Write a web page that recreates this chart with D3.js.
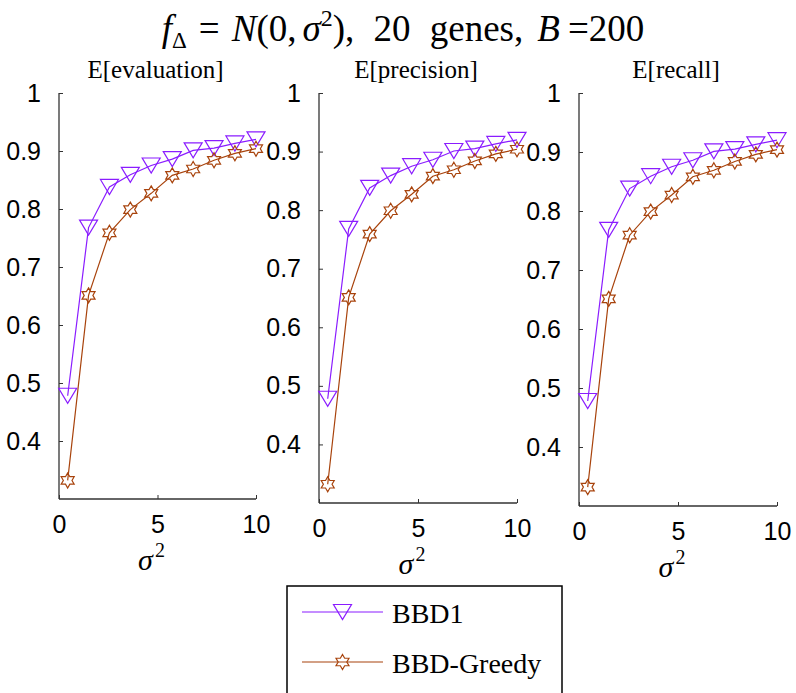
<!DOCTYPE html>
<html lang="en">
<head>
<meta charset="utf-8">
<title>BBD1 vs BBD-Greedy</title>
<script src="https://d3js.org/d3.v7.min.js"></script>
<style>
  body { margin: 0; background: #fff; }
  svg { display: block; }
  .serif { font-family: "Liberation Serif", "Times New Roman", serif; }
  .tick-label { font-family: "Liberation Sans", Arial, sans-serif; font-size: 25px; fill: #000; }
</style>
</head>
<body>
<svg id="chart" width="796" height="693"></svg>
<script>
// values (same curves in all three panels)
var sigma2 = [0.44, 1.5, 2.56, 3.62, 4.68, 5.75, 6.81, 7.87, 8.93, 10];
var bbd1 = [0.478, 0.768, 0.838, 0.859, 0.875, 0.886, 0.901, 0.905, 0.913, 0.92];
var bbdGreedy = [0.332, 0.651, 0.759, 0.799, 0.827, 0.858, 0.869, 0.884, 0.896, 0.904];

var panelTitles = ["E[evaluation]", "E[precision]", "E[recall]"];
var yTicks = [0.4, 0.5, 0.6, 0.7, 0.8, 0.9, 1];
var xTicks = [0, 5, 10];
var seriesNames = ["BBD1", "BBD-Greedy"];

var purple = "#8a1cff", brown = "#a8430c", axisColor = "#333";

// panel boxes (left, right, top, bottom) in px
var boxes = [
  {x0: 59, x1: 256, y0: 93, y1: 499},
  {x0: 319, x1: 517, y0: 93, y1: 503},
  {x0: 579, x1: 777, y0: 93, y1: 506}
];

var svg = d3.select("#chart");

var tri = "M-9,-7.5L9,-7.5L0,7.5Z";
function hexagram(r) {
  var ri = r / Math.sqrt(3), pts = [];
  for (var i = 0; i < 12; i++) {
    var a = -Math.PI / 2 + i * Math.PI / 6, rr = i % 2 ? ri : r;
    pts.push([rr * Math.cos(a), rr * Math.sin(a)]);
  }
  return "M" + pts.join("L") + "Z";
}
var star = hexagram(7.5);

var series = [
  {name: seriesNames[0], values: bbd1, color: purple, marker: tri},
  {name: seriesNames[1], values: bbdGreedy, color: brown, marker: star}
];

// main title
var title = svg.append("text").attr("class", "serif")
  .attr("x", 403).attr("y", 41).attr("text-anchor", "middle")
  .style("font-size", "37px").style("word-spacing", "10px");
title.append("tspan").style("font-style", "italic").text("f");
title.append("tspan").attr("dy", 7).style("font-size", "23px").text("Δ");
title.append("tspan").attr("dy", -7).attr("dx", 12).text("=");
title.append("tspan").attr("dx", 12).style("font-style", "italic").text("N");
title.append("tspan").text("(0,");
title.append("tspan").attr("dx", 6).style("font-style", "italic").text("σ");
title.append("tspan").attr("dy", -15).style("font-size", "24px").text("2");
title.append("tspan").attr("dy", 15).text("), 20 genes,");
title.append("tspan").attr("dx", 14).style("font-style", "italic").text("B");
title.append("tspan").attr("dx", 8).text("=200");

boxes.forEach(function (b, i) {
  var x = d3.scaleLinear().domain([0, 10]).range([b.x0, b.x1]);
  var y = d3.scaleLinear().domain([0.3, 1]).range([b.y1, b.y0]);
  var g = svg.append("g");

  g.append("text").attr("class", "serif")
    .attr("x", (b.x0 + b.x1) / 2 - 2).attr("y", 78).attr("text-anchor", "middle")
    .style("font-size", "25px").text(panelTitles[i]);

  // axes, ticks point inward
  var yAxis = d3.axisLeft(y).tickValues(yTicks).tickSize(-4).tickPadding(18)
    .tickFormat(d3.format("~g"));
  var xAxis = d3.axisBottom(x).tickValues(xTicks).tickSize(-4).tickPadding(16);

  var ya = g.append("g").attr("transform", "translate(" + b.x0 + ",0)").call(yAxis);
  var xa = g.append("g").attr("transform", "translate(0," + b.y1 + ")").call(xAxis);
  [ya, xa].forEach(function (a) {
    a.select(".domain").attr("stroke", axisColor).attr("stroke-width", 1.3);
    a.selectAll(".tick line").attr("stroke", axisColor);
    a.selectAll(".tick text").attr("class", "tick-label").attr("fill", "#000");
  });
  // plain axis lines, no outer ticks
  ya.select(".domain").attr("d", "M0," + b.y1 + "V" + b.y0);
  xa.select(".domain").attr("d", "M" + b.x0 + ",0H" + b.x1);
  xa.selectAll(".tick text").attr("dy", "0.71em");

  // x label sigma^2
  var xl = g.append("text").attr("class", "serif")
    .attr("x", (b.x0 + b.x1) / 2 - 6).attr("y", b.y1 + 71).attr("text-anchor", "middle")
    .style("font-size", "30px");
  xl.append("tspan").style("font-style", "italic").text("σ");
  xl.append("tspan").attr("dx", 2).attr("dy", -13).style("font-size", "20px").text("2");

  var line = d3.line().x(function (d, j) { return x(sigma2[j]); }).y(function (d) { return y(d); });

  series.forEach(function (s) {
    g.append("path").datum(s.values).attr("d", line)
      .attr("fill", "none").attr("stroke", s.color).attr("stroke-width", 1.2);
    g.selectAll(null).data(s.values).enter().append("path")
      .attr("d", s.marker)
      .attr("transform", function (d, j) { return "translate(" + x(sigma2[j]) + "," + y(d) + ")"; })
      .attr("fill", "none").attr("stroke", s.color).attr("stroke-width", 1.2);
  });
});

// legend
var lg = svg.append("g");
lg.append("rect").attr("x", 287).attr("y", 586).attr("width", 275).attr("height", 130)
  .attr("fill", "#fff").attr("stroke", "#000").attr("stroke-width", 1.5);
series.forEach(function (s, i) {
  var ly = 612 + i * 50;
  lg.append("line").attr("x1", 302).attr("x2", 383).attr("y1", ly).attr("y2", ly)
    .attr("stroke", s.color).attr("stroke-width", 1.2);
  lg.append("path").attr("d", s.marker).attr("transform", "translate(342.5," + ly + ")")
    .attr("fill", "none").attr("stroke", s.color).attr("stroke-width", 1.2);
  lg.append("text").attr("class", "serif").attr("x", 392).attr("y", ly + 11)
    .style("font-size", "28px").text(s.name);
});
</script>
</body>
</html>
